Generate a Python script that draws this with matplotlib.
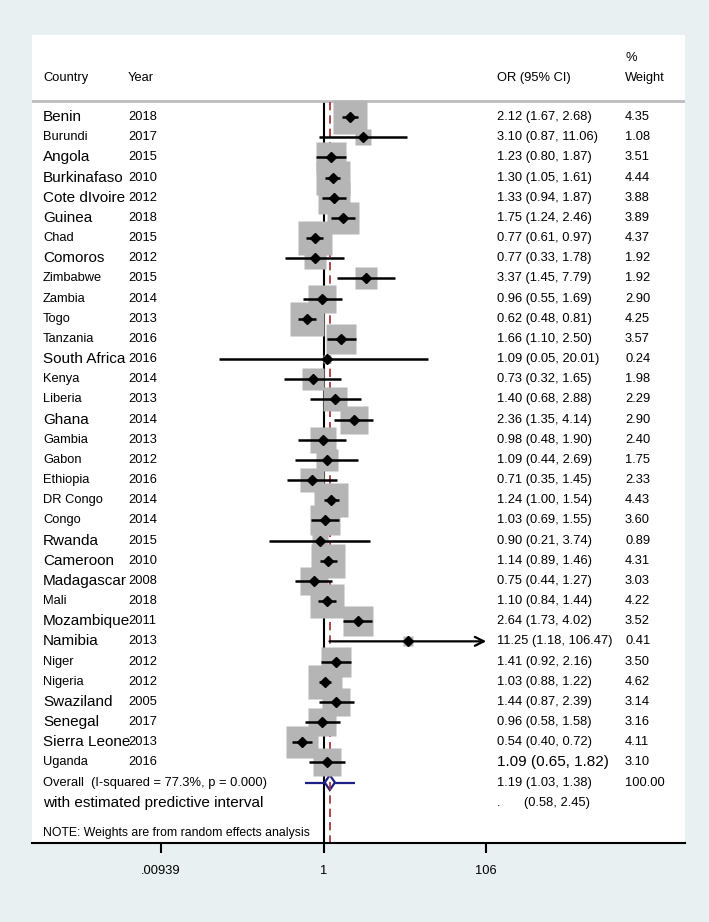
import matplotlib.pyplot as plt
import numpy as np
from matplotlib import font_manager as fm
from matplotlib.patches import Polygon
from matplotlib.ticker import NullLocator

countries = ["Benin", "Burundi", "Angola", "Burkinafaso", "Cote dIvoire", "Guinea",
             "Chad", "Comoros", "Zimbabwe", "Zambia", "Togo", "Tanzania",
             "South Africa", "Kenya", "Liberia", "Ghana", "Gambia", "Gabon",
             "Ethiopia", "DR Congo", "Congo", "Rwanda", "Cameroon", "Madagascar",
             "Mali", "Mozambique", "Namibia", "Niger", "Nigeria", "Swaziland",
             "Senegal", "Sierra Leone", "Uganda"]
years = [2018, 2017, 2015, 2010, 2012, 2018, 2015, 2012, 2015, 2014, 2013, 2016,
         2016, 2014, 2013, 2014, 2013, 2012, 2016, 2014, 2014, 2015, 2010, 2008,
         2018, 2011, 2013, 2012, 2012, 2005, 2017, 2013, 2016]
odds = [2.12, 3.10, 1.23, 1.30, 1.33, 1.75, 0.77, 0.77, 3.37, 0.96, 0.62, 1.66,
        1.09, 0.73, 1.40, 2.36, 0.98, 1.09, 0.71, 1.24, 1.03, 0.90, 1.14, 0.75,
        1.10, 2.64, 11.25, 1.41, 1.03, 1.44, 0.96, 0.54, 1.09]
lower = [1.67, 0.87, 0.80, 1.05, 0.94, 1.24, 0.61, 0.33, 1.45, 0.55, 0.48, 1.10,
         0.05, 0.32, 0.68, 1.35, 0.48, 0.44, 0.35, 1.00, 0.69, 0.21, 0.89, 0.44,
         0.84, 1.73, 1.18, 0.92, 0.88, 0.87, 0.58, 0.40, 0.65]
upper = [2.68, 11.06, 1.87, 1.61, 1.87, 2.46, 0.97, 1.78, 7.79, 1.69, 0.81, 2.50,
         20.01, 1.65, 2.88, 4.14, 1.90, 2.69, 1.45, 1.54, 1.55, 3.74, 1.46, 1.27,
         1.44, 4.02, 106.47, 2.16, 1.22, 2.39, 1.58, 0.72, 1.82]
weights = [4.35, 1.08, 3.51, 4.44, 3.88, 3.89, 4.37, 1.92, 1.92, 2.90, 4.25, 3.57,
           0.24, 1.98, 2.29, 2.90, 2.40, 1.75, 2.33, 4.43, 3.60, 0.89, 4.31, 3.03,
           4.22, 3.52, 0.41, 3.50, 4.62, 3.14, 3.16, 4.11, 3.10]

overall = (1.19, 1.03, 1.38)
pred_int = (0.58, 2.45)
i_squared = 77.3
p_value = 0.000
tick_vals = [0.00939, 1, 106]
tick_labels = [".00939", "1", "106"]

# rows printed in the wider font in the original
wide_rows = {"Benin", "Angola", "Burkinafaso", "Cote dIvoire", "Guinea", "Comoros",
             "South Africa", "Ghana", "Rwanda", "Cameroon", "Madagascar",
             "Mozambique", "Namibia", "Swaziland", "Senegal", "Sierra Leone"}

wide = ["Liberation Sans", "DejaVu Sans"]
fs_w = 11
# no narrow face installed? then shrink the regular one to about the same width
installed = {f.name for f in fm.fontManager.ttflist}
if "Liberation Sans Narrow" in installed:
    narrow = ["Liberation Sans Narrow", "Liberation Sans"]
    fs_n = 10.3
    fs_note = 10.3
else:
    narrow = wide
    fs_n = 9.3
    fs_note = 8.8

W, H = 709, 922
fig = plt.figure(figsize=(W / 100, H / 100), dpi=100)
fig.patch.set_facecolor("#e9f0f2")
ax = fig.add_axes([32 / W, 1 - 843 / H, (685 - 32) / W, (843 - 35) / H])
ax.set_facecolor("white")

# x: log scale, 1 at px 323.7, 34.85 px per ln unit
ax.set_xscale("log")
ax.set_xlim(np.exp((32 - 323.7) / 34.85), np.exp((685 - 323.7) / 34.85))
ax.set_ylim(36.0, -4.07)

n = len(countries)
rows = np.arange(n)
tr = ax.get_yaxis_transform()


def colx(px):
    return (px - 32) / 653


# header
ax.text(colx(43), -1.93, "Country", transform=tr, family=narrow, size=fs_n, va="center")
ax.text(colx(128), -1.93, "Year", transform=tr, family=narrow, size=fs_n, va="center")
ax.text(colx(497), -1.93, "OR (95% CI)", transform=tr, family=narrow, size=fs_n, va="center")
ax.text(colx(625), -2.93, "%", transform=tr, family=narrow, size=fs_n, va="center")
ax.text(colx(625), -1.93, "Weight", transform=tr, family=narrow, size=fs_n, va="center")
ax.axhline(-0.79, color="#bdbdbd", lw=2)

# reference lines
ax.vlines(1, -0.74, 36, color="black", lw=1.5, zorder=1)
ax.vlines(overall[0], -0.74, 36, color="#a3282e", lw=1.2, linestyles=(0, (5, 3)), zorder=2.5)

cap = tick_vals[-1]
for i in range(n):
    y = rows[i]
    ax.plot(odds[i], y, marker="s", ms=11.7 * np.sqrt(weights[i]), color="#b5b5b5",
            mec="none", zorder=3)
    if upper[i] > cap:
        ax.annotate("", xy=(cap, y), xytext=(lower[i], y),
                    arrowprops=dict(arrowstyle="->", lw=1.6, color="black",
                                    mutation_scale=16, shrinkA=0, shrinkB=0), zorder=4)
    else:
        ax.hlines(y, lower[i], upper[i], color="black", lw=1.8, zorder=4)
    ax.plot(odds[i], y, marker="D", ms=5, color="black", zorder=5)

    cf = wide if countries[i] in wide_rows else narrow
    cs = fs_w if countries[i] in wide_rows else fs_n
    ax.text(colx(43), y, countries[i], transform=tr, family=cf, size=cs, va="center")
    ax.text(colx(128), y, str(years[i]), transform=tr, family=narrow, size=fs_n, va="center")
    ci = f"{odds[i]:.2f} ({lower[i]:.2f}, {upper[i]:.2f})"
    if i == n - 1:
        ax.text(colx(497), y, ci, transform=tr, family=wide, size=fs_w, va="center")
    else:
        ax.text(colx(497), y, ci, transform=tr, family=narrow, size=fs_n, va="center")
    ax.text(colx(625), y, f"{weights[i]:.2f}", transform=tr, family=narrow, size=fs_n,
            va="center")

# overall
yo = n
ax.hlines(yo, pred_int[0], pred_int[1], color="#1c2086", lw=1.6, zorder=1.5)
est, lo, hi = overall
diamond = Polygon([(lo, yo), (est, yo - 0.37), (hi, yo), (est, yo + 0.37)], closed=True,
                  facecolor="white", edgecolor="#1c2086", lw=1.6, zorder=2)
ax.add_patch(diamond)
ax.text(colx(43), yo, f"Overall  (I-squared = {i_squared:.1f}%, p = {p_value:.3f})",
        transform=tr, family=narrow, size=fs_n, va="center")
ax.text(colx(497), yo, f"{est:.2f} ({lo:.2f}, {hi:.2f})", transform=tr, family=narrow,
        size=fs_n, va="center")
ax.text(colx(625), yo, "100.00", transform=tr, family=narrow, size=fs_n, va="center")

ax.text(colx(43), yo + 1, "with estimated predictive interval", transform=tr, family=wide,
        size=fs_w, va="center")
ax.text(colx(497), yo + 1, ".", transform=tr, family=narrow, size=fs_n, va="center")
ax.text(colx(524), yo + 1, f"({pred_int[0]:.2f}, {pred_int[1]:.2f})", transform=tr,
        family=narrow, size=fs_n, va="center")

ax.text(colx(43), 35.5, "NOTE: Weights are from random effects analysis", transform=tr,
        family=narrow, size=fs_note, va="center")

# axis
for s in ["top", "left", "right"]:
    ax.spines[s].set_visible(False)
ax.spines["bottom"].set_linewidth(1.5)
ax.set_yticks([])
ax.set_xticks(tick_vals)
ax.set_xticklabels(tick_labels, family=narrow, size=fs_n)
ax.xaxis.set_minor_locator(NullLocator())
ax.tick_params(axis="x", length=7.5, width=1.5, pad=8)

fig.savefig("out.png", dpi=100)
